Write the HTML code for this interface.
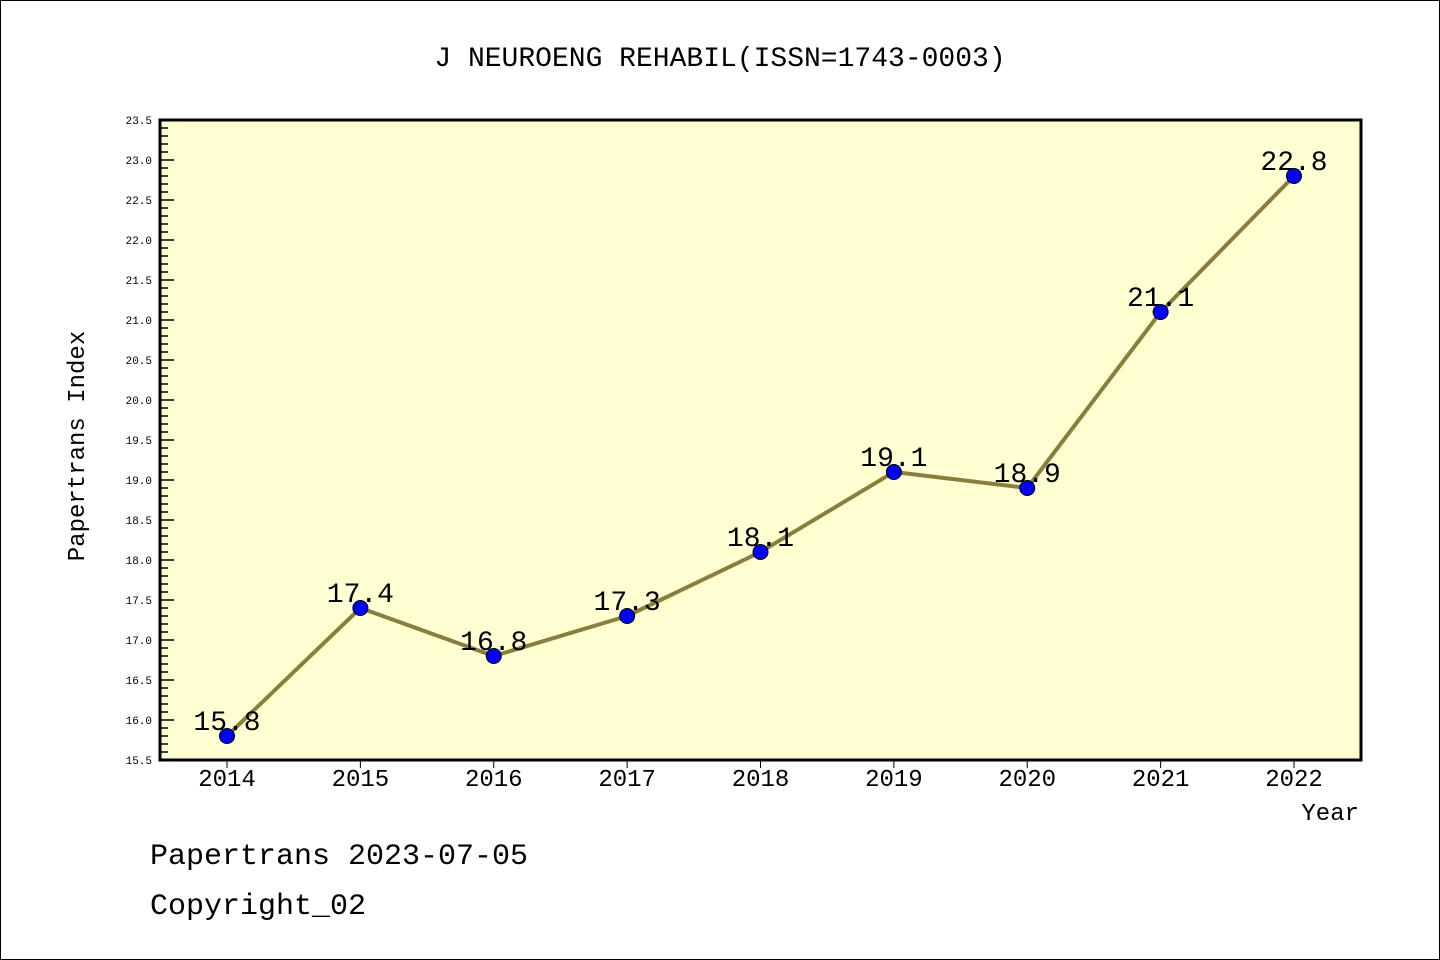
<!DOCTYPE html>
<html><head><meta charset="utf-8"><style>
body{margin:0;background:#fff}
svg{display:block;font-family:"Liberation Mono","DejaVu Sans Mono",monospace}
</style></head><body>
<svg id="c" width="1440" height="960" xmlns="http://www.w3.org/2000/svg">
<rect x="0.5" y="0.5" width="1439" height="959" fill="#fff" stroke="#000"/>
<text x="720" y="66" font-size="28" text-anchor="middle">J NEUROENG REHABIL(ISSN=1743-0003)</text>
<rect x="160" y="120" width="1201" height="640" fill="#ffffd2"/>
<g id="yticks"></g><g id="xticks"></g><g id="series"></g>
<rect x="160" y="120" width="1201" height="640" fill="none" stroke="#000" stroke-width="3"/>
<text transform="translate(84,446) rotate(-90)" font-size="24" text-anchor="middle">Papertrans Index</text>
<text x="1359" y="820" font-size="24" text-anchor="end">Year</text>
<text x="150" y="864" font-size="30">Papertrans 2023-07-05</text>
<text x="150" y="914" font-size="30">Copyright_02</text>
</svg>
<script>
const years=[2014,2015,2016,2017,2018,2019,2020,2021,2022];
const values=[15.8,17.4,16.8,17.3,18.1,19.1,18.9,21.1,22.8];
const labels=["15.8","17.4","16.8","17.3","18.1","19.1","18.9","21.1","22.8"];
const yTicks=["15.5","16.0","16.5","17.0","17.5","18.0","18.5","19.0","19.5","20.0","20.5","21.0","21.5","22.0","22.5","23.0","23.5"];
const NS="http://www.w3.org/2000/svg";
const yMin=15.5,yMax=23.5,yTop=120,yBot=760;
const y=v=>yBot-(v-yMin)/(yMax-yMin)*(yBot-yTop);
const x=yr=>227+(yr-2014)*(1294-227)/8;
function mk(t,a,p){const e=document.createElementNS(NS,t);for(const k in a)e.setAttribute(k,a[k]);p.appendChild(e);return e;}
const yt=document.getElementById('yticks');
for(let i=0;i<=80;i++){const v=yMin+i*0.1;const major=i%5===0;
 const l=mk('line',{x1:160,x2:160+(major?14:8),y1:y(v),y2:y(v),stroke:'#000','stroke-width':1.5},yt);
 
 }
yTicks.forEach(s=>{const t=mk('text',{x:152,y:y(parseFloat(s))+4,'font-size':11,'text-anchor':'end'},yt);t.textContent=s;
 
 });
const xt=document.getElementById('xticks');
years.forEach(yr=>{const l=mk('line',{x1:x(yr),x2:x(yr),y1:760,y2:768,stroke:'#000','stroke-width':1},xt);
 
 
 const t=mk('text',{x:x(yr),y:786,'font-size':24,'text-anchor':'middle'},xt);t.textContent=yr;
 
 });
const s=document.getElementById('series');
const pl=mk('polyline',{points:years.map((yr,i)=>x(yr)+','+y(values[i])).join(' '),fill:'none',stroke:'#8b7d3a','stroke-width':4},s);


years.forEach((yr,i)=>{const t=mk('text',{x:x(yr),y:y(values[i])-6,'font-size':28,'text-anchor':'middle'},s);t.textContent=labels[i];
 
 
 const c=mk('circle',{cx:x(yr),cy:y(values[i]),r:7.5,fill:'#0000ff',stroke:'#000','stroke-width':1},s);
 
 });
</script>
</body></html>
